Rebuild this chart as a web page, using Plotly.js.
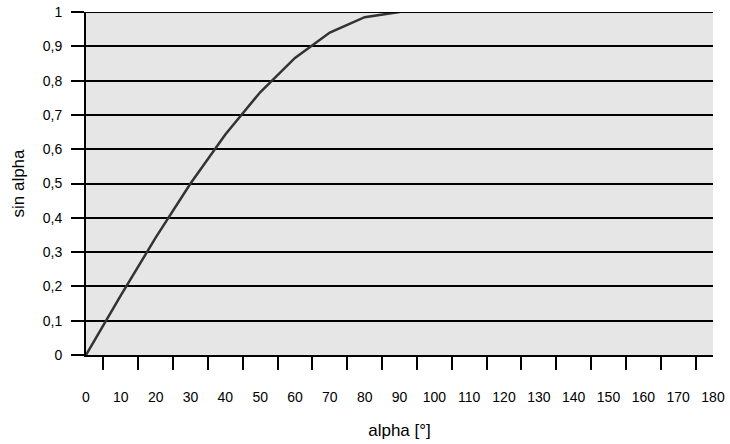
<!DOCTYPE html>
<html>
<head>
<meta charset="utf-8">
<script src="https://cdn.plot.ly/plotly-3.0.1.min.js"></script>
<style>html,body{margin:0;padding:0;background:#fff;}#chart{width:730px;height:444px;}</style>
</head>
<body>
<div id="chart"></div>
<script>
const alphaDeg = [0, 10, 20, 30, 40, 50, 60, 70, 80, 90];
const sinAlpha = [0, 0.174, 0.342, 0.5, 0.643, 0.766, 0.866, 0.94, 0.985, 1];
const xTickVals = [0,10,20,30,40,50,60,70,80,90,100,110,120,130,140,150,160,170,180];
const yTickVals = [0,0.1,0.2,0.3,0.4,0.5,0.6,0.7,0.8,0.9,1];

const trace = {
  x: alphaDeg, y: sinAlpha, type: 'scatter', mode: 'lines',
  line: {color: '#333333', width: 2.5}, hoverinfo: 'skip', showlegend: false
};

const layout = {
  width: 730, height: 444,
  margin: {l: 86, r: 17, t: 12, b: 89},
  paper_bgcolor: '#ffffff', plot_bgcolor: '#e6e6e6',
  separators: ', ',
  font: {family: 'Liberation Sans, Arial, sans-serif', size: 14, color: '#000'},
  xaxis: {
    range: [0, 180], tickmode: 'array', tickvals: xTickVals,
    ticktext: xTickVals.map(String),
    ticks: '', showgrid: false, zeroline: false,
    showline: true, linecolor: '#000', linewidth: 2,
    ticklabelstandoff: 28,
    minor: {ticks: 'outside', tick0: 5, dtick: 10, ticklen: 13, tickcolor: '#000', tickwidth: 2, showgrid: false},
    title: {text: 'alpha [°]', font: {size: 17}, standoff: 20},
    fixedrange: true
  },
  yaxis: {
    range: [0, 1], tickmode: 'array', tickvals: yTickVals,
    ticks: 'outside', ticklen: 13, tickcolor: '#000', tickwidth: 2,
    ticklabelstandoff: 6,
    showgrid: true, gridcolor: '#000', gridwidth: 2,
    zeroline: false, showline: true, linecolor: '#000', linewidth: 2,
    title: {text: 'sin alpha', font: {size: 17}, standoff: 14},
    fixedrange: true
  },
  shapes: [{type: 'line', xref: 'paper', yref: 'y', x0: 0, x1: 1, y0: 1, y1: 1, line: {color: '#000', width: 2}}]
};

Plotly.newPlot('chart', [trace], layout, {staticPlot: true, displayModeBar: false});
</script>
</body>
</html>
